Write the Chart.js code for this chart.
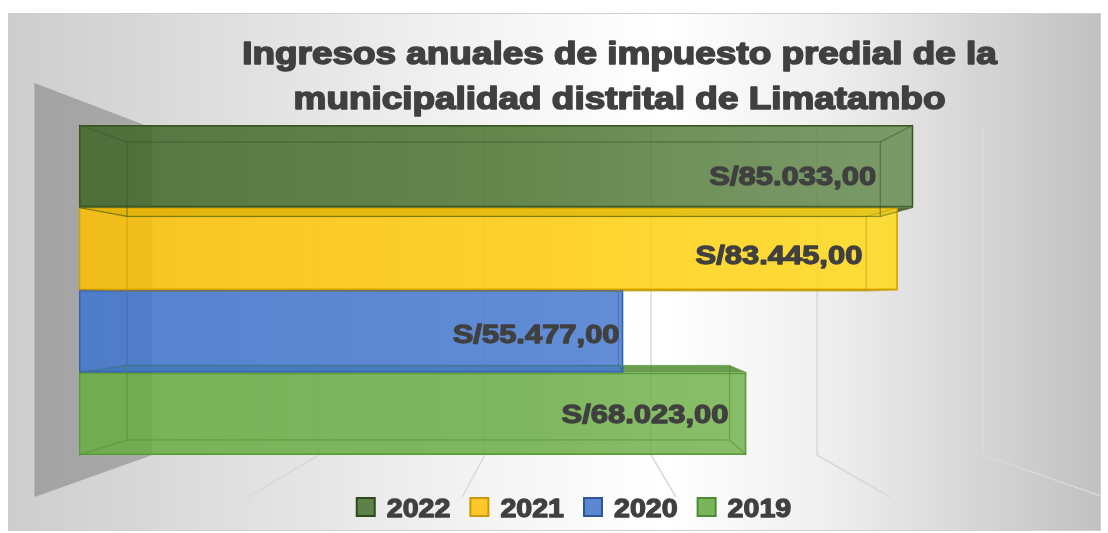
<!DOCTYPE html>
<html><head><meta charset="utf-8">
<script src="https://cdn.jsdelivr.net/npm/chart.js@4.4.1/dist/chart.umd.min.js"></script>
<style>html,body{margin:0;padding:0;background:#fff;overflow:hidden}</style>
</head><body>
<canvas id="c" width="1108" height="533" style="display:block;width:1108px;height:533px"></canvas>
<script>
// ---- data ----
const categories = [''];
const seriesNames = ['2022', '2021', '2020', '2019'];
const seriesValues = [85033, 83445, 55477, 68023];
const axisMax = 100000;
const gridValues = [0, 20000, 40000, 60000, 80000, 100000];
const titleLines = ['Ingresos anuales de impuesto predial de la', 'municipalidad distrital de Limatambo'];
const labelPrefix = 'S/';

// ---- styles ----
const faceStops = [
  ['rgba(64,101,40,0.85)', 'rgba(75,116,48,0.85)', 'rgba(104,141,83,0.85)'],
  ['rgba(253,193,2,0.85)', 'rgba(255,202,9,0.85)', 'rgba(255,218,27,0.85)'],
  ['rgba(64,117,206,0.85)', 'rgba(69,120,206,0.85)', 'rgba(82,131,211,0.85)'],
  ['rgba(105,172,67,0.85)', 'rgba(106,172,69,0.85)', 'rgba(123,185,85,0.85)']
];
const edgeColors = ['#375623', '#cfa200', '#3562b0', '#5a9a38'];
const edgeRGB = [[55,86,35],[190,150,0],[53,98,176],[80,140,50]];
const legendFill = ['#5e8049', '#ffc727', '#5b87d1', '#7ab55c'];
const legendStroke = ['#2f4a1e', '#c99a00', '#2f5597', '#4e8a33'];
const textColor = '#404040';
const FONT = '"Liberation Sans", Arial, sans-serif';
const TITLE_STYLE = { size: 31, stretch: 1.19, stroke: 1.6, base1: 64, lineGap: 45, centerShift: 50 };
const LABEL_STYLE = { size: 26, stretch: 1.19, stroke: 1.3 };
const LEGEND_STYLE = { size: 26, stretch: 1.1, stroke: 1.3, box: 18, boxGap: 12, itemGap: 20, boxTop: 43, baseline: 61.5, centerShift: 4.5 };

// perspective constants (fractions of plot area)
const GEO = { vpX: 0.5046, vpY: 0.53, barK: 0.903, wallVpX: 0.489, wallK: 0.847, floorK: 1.09,
              wallTopOff: 3, floorDrop: 42 };

function fmt(v) {
  const ip = String(Math.floor(v)).replace(/\B(?=(\d{3})+(?!\d))/g, '.');
  const dec = String(Math.round((v - Math.floor(v)) * 100)).padStart(2, '0');
  return labelPrefix + ip + ',' + dec;
}

function heavyText(ctx, text, x, y, size, stretch, stroke, align) {
  ctx.save();
  ctx.font = 'bold ' + size + 'px ' + FONT;
  ctx.fillStyle = textColor; ctx.strokeStyle = textColor;
  ctx.lineWidth = stroke; ctx.lineJoin = 'round';
  ctx.textAlign = align; ctx.textBaseline = 'alphabetic';
  ctx.translate(x, y); ctx.scale(stretch, 1);
  ctx.fillText(text, 0, 0);
  ctx.strokeText(text, 0, 0);
  ctx.restore();
}
function textW(ctx, text, size, stretch) {
  ctx.save(); ctx.font = 'bold ' + size + 'px ' + FONT;
  const w = ctx.measureText(text).width * stretch; ctx.restore(); return w;
}

function barGeom(chart) {
  const a = chart.chartArea, w = a.right - a.left, h = a.bottom - a.top;
  return { vpx: a.left + GEO.vpX * w, vpy: a.top + GEO.vpY * h, k: GEO.barK };
}

const scene = {
  id: 'scene',
  beforeDraw(chart) {
    const ctx = chart.ctx, W = chart.width, H = chart.height;
    ctx.save();
    ctx.fillStyle = '#ffffff'; ctx.fillRect(0, 0, W, H);
    const cx = 8.5, cy = 13.5, cw = 1092, ch = 517;
    const g = ctx.createLinearGradient(cx, 0, cx + cw, 0);
    g.addColorStop(0, '#cdcdcd'); g.addColorStop(0.45, '#f5f5f5'); g.addColorStop(0.6, '#ffffff');
    g.addColorStop(0.75, '#efefef'); g.addColorStop(1, '#c1c1c1');
    ctx.fillStyle = g; ctx.fillRect(cx, cy, cw, ch);
    ctx.strokeStyle = '#d0d0d0'; ctx.lineWidth = 1; ctx.strokeRect(cx, cy, cw, ch);
    ctx.restore();
  },
  beforeDatasetsDraw(chart) {
    const ctx = chart.ctx, a = chart.chartArea, xs = chart.scales.x;
    const w = a.right - a.left;
    const vpx = a.left + GEO.vpX * w, wvpx = a.left + GEO.wallVpX * w;
    const bx = v => wvpx + (xs.getPixelForValue(v) - wvpx) * GEO.wallK;
    const fx = v => vpx + (xs.getPixelForValue(v) - vpx) * GEO.floorK;
    const wallTop = a.top + GEO.wallTopOff, wallBot = a.bottom;
    const floorY = a.bottom + GEO.floorDrop, frontTop = a.top - GEO.floorDrop;
    ctx.save();
    ctx.beginPath(); ctx.rect(9, 14, 1091, 516); ctx.clip();
    ctx.strokeStyle = '#d9d9d9'; ctx.lineWidth = 1.5;
    gridValues.slice(1).forEach(v => {
      ctx.beginPath(); ctx.moveTo(bx(v), wallTop); ctx.lineTo(bx(v), wallBot); ctx.lineTo(fx(v), floorY); ctx.stroke();
    });
    const lg = ctx.createLinearGradient(fx(0), 0, bx(0), 0);
    lg.addColorStop(0, '#a3a3a3'); lg.addColorStop(1, '#a9a9a9');
    ctx.fillStyle = lg;
    ctx.beginPath();
    ctx.moveTo(fx(0), frontTop); ctx.lineTo(bx(0), wallTop); ctx.lineTo(bx(0), wallBot); ctx.lineTo(fx(0), floorY);
    ctx.closePath(); ctx.fill();
    // outer (top / bottom) faces of the 3D bars, behind the translucent fronts
    const {vpx: px, vpy: py, k} = barGeom(chart);
    const P = (x, y) => [px + (x - px) * k, py + (y - py) * k];
    for (let i = chart.data.datasets.length - 1; i >= 0; i--) {
      chart.getDatasetMeta(i).data.forEach(el => {
        const p = el.getProps(['x', 'y', 'base', 'height'], true);
        const L = Math.min(p.base, p.x), R = Math.max(p.base, p.x), T = p.y - p.height / 2, B = p.y + p.height / 2;
        const [L2, T2] = P(L, T), [R2, B2] = P(R, B);
        const c = edgeRGB[i];
        ctx.fillStyle = `rgba(${c[0]},${c[1]},${c[2]},0.85)`;
        if (T2 < T) { ctx.beginPath(); ctx.moveTo(L, T); ctx.lineTo(L2, T2); ctx.lineTo(R2, T2); ctx.lineTo(R, T); ctx.closePath(); ctx.fill(); }
        if (B2 > B) { ctx.beginPath(); ctx.moveTo(L, B); ctx.lineTo(L2, B2); ctx.lineTo(R2, B2); ctx.lineTo(R, B); ctx.closePath(); ctx.fill(); }
      });
    }
    ctx.restore();
  },
  afterDatasetsDraw(chart) {
    const ctx = chart.ctx;
    const {vpx, vpy, k} = barGeom(chart);
    const P = (x, y) => [vpx + (x - vpx) * k, vpy + (y - vpy) * k];
    ctx.save();
    for (let i = chart.data.datasets.length - 1; i >= 0; i--) {
      chart.getDatasetMeta(i).data.forEach(el => {
        const p = el.getProps(['x', 'y', 'base', 'height'], true);
        const L = Math.min(p.base, p.x), R = Math.max(p.base, p.x), T = p.y - p.height / 2, B = p.y + p.height / 2;
        const [L2, T2] = P(L, T), [R2, B2] = P(R, B);
        const c = edgeRGB[i];
        ctx.strokeStyle = `rgba(${c[0]},${c[1]},${c[2]},0.55)`; ctx.lineWidth = 1.2;
        ctx.strokeRect(L2, T2, R2 - L2, B2 - T2);
        ctx.beginPath();
        ctx.moveTo(L, T); ctx.lineTo(L2, T2); ctx.moveTo(R, T); ctx.lineTo(R2, T2);
        ctx.moveTo(L, B); ctx.lineTo(L2, B2); ctx.moveTo(R, B); ctx.lineTo(R2, B2);
        ctx.stroke();
      });
    }
    ctx.restore();
    // value labels
    chart.data.datasets.forEach((ds, i) => {
      chart.getDatasetMeta(i).data.forEach((el, j) => {
        const p = el.getProps(['x', 'y'], true);
        const lx = vpx + (p.x - vpx) * 0.885 + 2;
        const ly = vpy + (p.y - vpy) * 0.96 + 4 + LABEL_STYLE.size * 0.36;
        heavyText(ctx, fmt(ds.data[j]), lx, ly, LABEL_STYLE.size, LABEL_STYLE.stretch, LABEL_STYLE.stroke, 'right');
      });
    });
  },
  afterDraw(chart) {
    const ctx = chart.ctx, a = chart.chartArea;
    // title
    const tcx = (a.left + a.right) / 2 + TITLE_STYLE.centerShift;
    titleLines.forEach((line, i) => {
      heavyText(ctx, line, tcx, TITLE_STYLE.base1 + i * TITLE_STYLE.lineGap, TITLE_STYLE.size, TITLE_STYLE.stretch, TITLE_STYLE.stroke, 'center');
    });
    // legend
    const S = LEGEND_STYLE;
    const names = chart.data.datasets.map(d => d.label);
    const widths = names.map(n => textW(ctx, n, S.size, S.stretch));
    const total = widths.reduce((s, w) => s + S.box + S.boxGap + w, 0) + S.itemGap * (names.length - 1);
    let x = (a.left + a.right) / 2 + S.centerShift - total / 2;
    const boxY = a.bottom + S.boxTop;
    names.forEach((n, i) => {
      ctx.save();
      ctx.fillStyle = legendFill[i]; ctx.strokeStyle = legendStroke[i]; ctx.lineWidth = 2;
      ctx.fillRect(x, boxY, S.box, S.box); ctx.strokeRect(x, boxY, S.box, S.box);
      ctx.restore();
      heavyText(ctx, n, x + S.box + S.boxGap, a.bottom + S.baseline, S.size, S.stretch, S.stroke, 'left');
      x += S.box + S.boxGap + widths[i] + S.itemGap;
    });
  }
};

const datasets = seriesNames.map((name, i) => ({
  label: name,
  data: [seriesValues[i]],
  backgroundColor: (c) => {
    const a = c.chart.chartArea; const s = faceStops[i];
    if (!a) return s[1];
    const g = c.chart.ctx.createLinearGradient(a.left, 0, a.right, 0);
    g.addColorStop(0, s[0]); g.addColorStop(0.45, s[1]); g.addColorStop(0.85, s[2]); g.addColorStop(1, s[2]);
    return g;
  },
  borderColor: edgeColors[i],
  borderWidth: 1.6,
  borderSkipped: false,
  categoryPercentage: 1,
  barPercentage: 1
}));

new Chart(document.getElementById('c'), {
  type: 'bar',
  data: { labels: categories, datasets },
  options: {
    indexAxis: 'y',
    responsive: false,
    animation: false,
    devicePixelRatio: 1,
    layout: { padding: { left: 79, right: 48, top: 125, bottom: 78 } },
    scales: {
      x: { min: 0, max: axisMax, display: false },
      y: { display: false }
    },
    plugins: {
      tooltip: { enabled: false },
      title: { display: false, text: titleLines },
      legend: { display: false }
    }
  },
  plugins: [scene]
});
</script>
</body></html>
